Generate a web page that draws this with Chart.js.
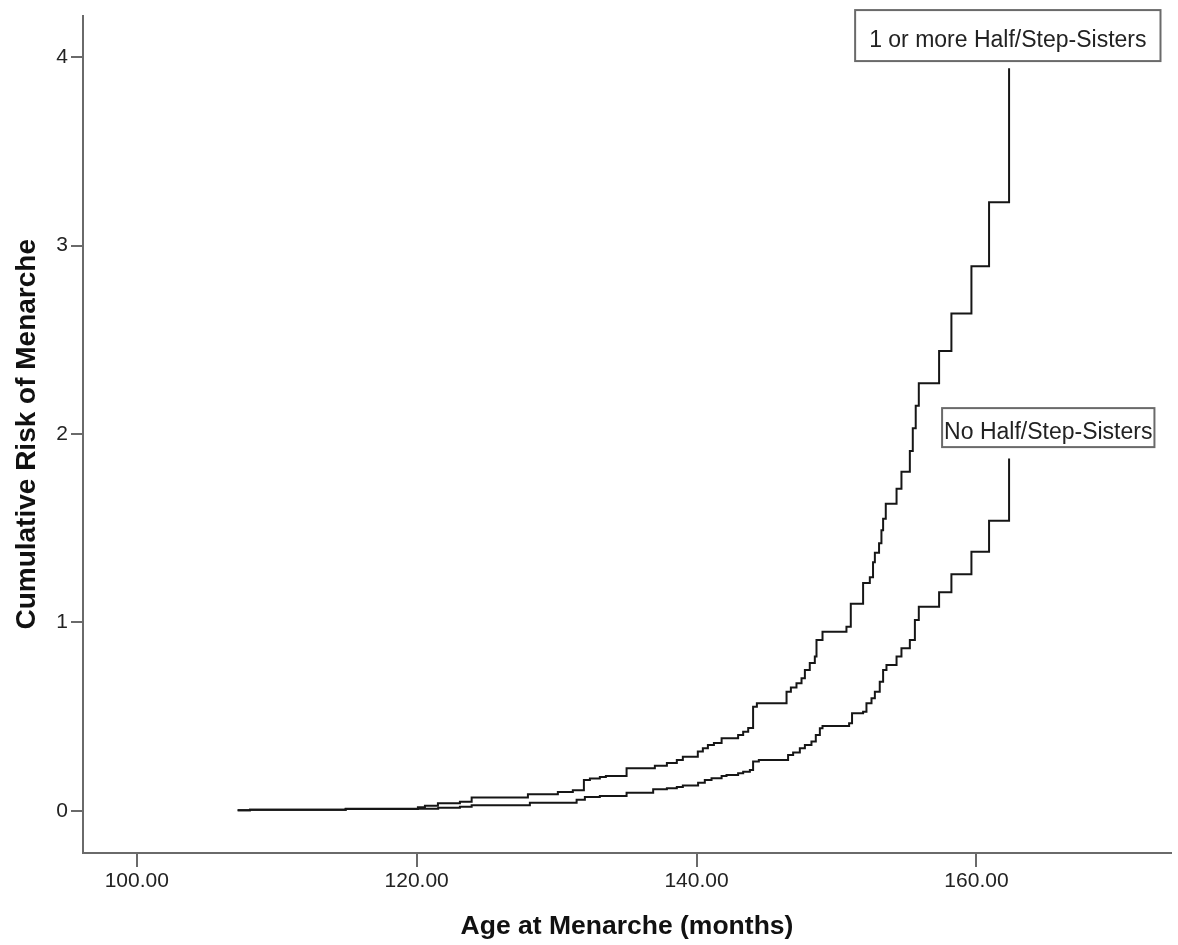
<!DOCTYPE html>
<html>
<head>
<meta charset="utf-8">
<script src="https://cdn.jsdelivr.net/npm/chart.js@4.4.1/dist/chart.umd.min.js"></script>
<style>
    html, body { margin: 0; padding: 0; background: #fff; }
    #wrap { width: 1178px; height: 945px; }
</style>
</head>
<body>
<div id="wrap"><canvas id="graficoRisco"></canvas></div>
<script>
// Cumulative hazard steps: age in months and risk after each event
const monthsWithSisters = [107.21, 108.09, 114.93, 120.09, 120.59, 121.52, 123.09, 123.93, 127.95, 130.09,
    131.16, 131.95, 132.38, 133.09, 133.52, 135.0, 137.02, 137.88, 138.59, 139.02,
    140.09, 140.45, 140.81, 141.24, 141.79, 142.97, 143.33, 143.69, 144.04, 144.31,
    146.43, 146.74, 147.14, 147.5, 147.74, 148.09, 148.45, 148.57, 149.0, 150.71,
    151.02, 151.9, 152.38, 152.61, 152.74, 153.04, 153.21, 153.33, 153.52, 154.29,
    154.64, 155.24, 155.45, 155.66, 155.88, 157.33, 158.21, 159.64, 160.9, 162.33];
const riskWithSisters = [0.004, 0.007, 0.012, 0.02, 0.028, 0.041, 0.049, 0.071, 0.089, 0.10,
    0.11, 0.164, 0.172, 0.18, 0.186, 0.227, 0.24, 0.255, 0.27, 0.288,
    0.315, 0.333, 0.35, 0.36, 0.386, 0.403, 0.42, 0.44, 0.553, 0.571,
    0.633, 0.655, 0.677, 0.704, 0.748, 0.785, 0.819, 0.907, 0.951, 0.978,
    1.10, 1.21, 1.24, 1.32, 1.37, 1.42, 1.49, 1.55, 1.63, 1.71,
    1.80, 1.91, 2.03, 2.15, 2.27, 2.44, 2.64, 2.89, 3.23, 3.94];

const monthsNoSisters = [107.21, 108.09, 114.93, 120.09, 121.54, 123.09, 123.93, 128.09, 131.43, 132.02,
    133.09, 135.0, 136.9, 137.88, 138.59, 139.02, 140.11, 140.59, 141.07, 141.79,
    142.14, 142.97, 143.33, 143.81, 144.04, 144.45, 146.54, 146.9, 147.38, 147.74,
    148.21, 148.52, 148.81, 149.0, 150.9, 151.11, 151.9, 152.14, 152.5, 152.74,
    153.09, 153.33, 153.57, 154.29, 154.64, 155.24, 155.6, 155.88, 157.33, 158.21,
    159.64, 160.9, 162.33];
const riskNoSisters = [0.004, 0.006, 0.01, 0.012, 0.017, 0.022, 0.03, 0.044, 0.06, 0.074,
    0.08, 0.097, 0.115, 0.12, 0.127, 0.135, 0.15, 0.164, 0.173, 0.186,
    0.191, 0.2, 0.208, 0.218, 0.262, 0.27, 0.297, 0.31, 0.333, 0.35,
    0.368, 0.403, 0.439, 0.451, 0.465, 0.518, 0.527, 0.571, 0.598, 0.633,
    0.686, 0.748, 0.775, 0.819, 0.863, 0.907, 1.013, 1.084, 1.16, 1.256,
    1.376, 1.54, 1.87];

const groupNames = ["1 or more Half/Step-Sisters", "No Half/Step-Sisters"];
const xTicks = [100, 120, 140, 160];
const yTicks = [0, 1, 2, 3, 4];

const FONT = "'Liberation Sans', Arial, sans-serif";

// boxed group names placed next to the end of each curve
const groupLabels = {
    id: "groupLabels",
    afterDatasetsDraw(chart, args, opts) {
        const { ctx, scales: { x, y } } = chart;
        ctx.save();
        ctx.font = `${opts.size}px ${FONT}`;
        ctx.textAlign = "center";
        ctx.textBaseline = "alphabetic";
        opts.boxes.forEach((b) => {
            const cx = x.getPixelForValue(b.x);
            const cy = y.getPixelForValue(b.y);
            const w = ctx.measureText(b.text).width + b.padX * 2;
            const h = b.height;
            ctx.fillStyle = "#fff";
            ctx.fillRect(cx - w / 2, cy - h / 2, w, h);
            ctx.strokeStyle = "#6a6a6a";
            ctx.lineWidth = 2;
            ctx.strokeRect(cx - w / 2, cy - h / 2, w, h);
            ctx.fillStyle = "#222";
            ctx.fillText(b.text, cx, cy + 11);
        });
        ctx.restore();
    },
};

function stepData(months, risk) {
    return months.map((m, i) => ({ x: m, y: risk[i] }));
}

function renderGraficoRisco() {
    const ctx = document.getElementById("graficoRisco");

    new Chart(ctx, {
        type: "line",
        data: {
            datasets: [
                {
                    label: groupNames[0],
                    data: stepData(monthsWithSisters, riskWithSisters),
                    stepped: true,
                    borderColor: "#161616",
                    borderWidth: 2,
                    pointRadius: 0,
                    fill: false,
                },
                {
                    label: groupNames[1],
                    data: stepData(monthsNoSisters, riskNoSisters),
                    stepped: true,
                    borderColor: "#161616",
                    borderWidth: 2,
                    pointRadius: 0,
                    fill: false,
                },
            ],
        },
        options: {
            responsive: true,
            maintainAspectRatio: false,
            animation: false,
            layout: { padding: { top: 15, right: 7, left: 0, bottom: 0 } },
            plugins: {
                legend: { display: false },
                tooltip: { enabled: false },
                groupLabels: {
                    size: 23,
                    boxes: [
                        { text: groupNames[0], x: 162.24, y: 4.114, padX: 14, height: 51 },
                        { text: groupNames[1], x: 165.13, y: 2.034, padX: 2, height: 39 },
                    ],
                },
            },
            scales: {
                x: {
                    type: "linear",
                    min: 96.16,
                    max: 173.9,
                    afterBuildTicks: (s) => { s.ticks = xTicks.map((v) => ({ value: v })); },
                    afterFit: (s) => { s.height = 92; },
                    ticks: {
                        callback: (v) => Number(v).toFixed(2),
                        font: { family: FONT, size: 21 },
                        color: "#222",
                        padding: 2,
                        maxRotation: 0,
                    },
                    grid: { drawOnChartArea: false, tickLength: 14, color: "#6a6a6a", lineWidth: 2 },
                    border: { color: "#6a6a6a", width: 2 },
                    title: {
                        display: true,
                        text: "Age at Menarche (months)",
                        font: { family: FONT, size: 26.5, weight: "bold" },
                        color: "#111",
                        padding: { top: 0, bottom: 2 },
                    },
                },
                y: {
                    type: "linear",
                    min: -0.223,
                    max: 4.22,
                    afterBuildTicks: (s) => { s.ticks = yTicks.map((v) => ({ value: v })); },
                    afterFit: (s) => { s.width = 83; },
                    ticks: {
                        font: { family: FONT, size: 21 },
                        color: "#222",
                        padding: 3,
                    },
                    grid: { drawOnChartArea: false, tickLength: 12, color: "#6a6a6a", lineWidth: 2 },
                    border: { color: "#6a6a6a", width: 2 },
                    title: {
                        display: true,
                        text: "Cumulative Risk of Menarche",
                        font: { family: FONT, size: 28, weight: "bold" },
                        color: "#111",
                        padding: { top: 10, bottom: 0 },
                    },
                },
            },
        },
        plugins: [groupLabels],
    });
}

renderGraficoRisco();
</script>
</body>
</html>
